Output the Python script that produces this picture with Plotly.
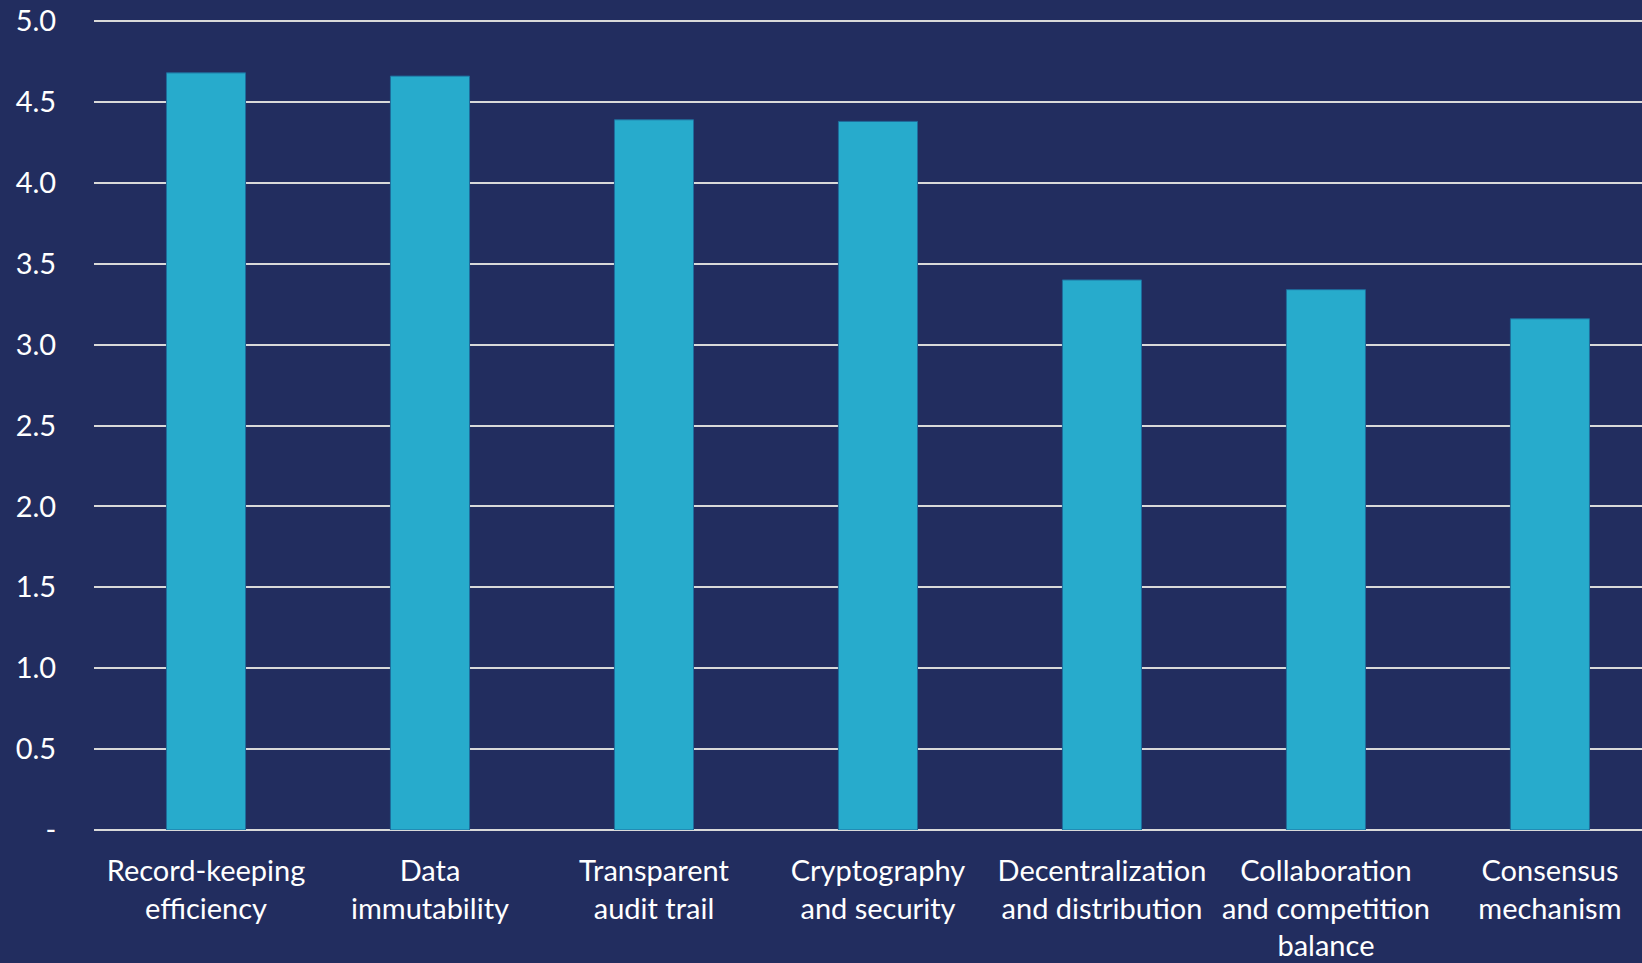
import plotly.graph_objects as go

categories = [
    "Record-keeping<br>efficiency",
    "Data<br>immutability",
    "Transparent<br>audit trail",
    "Cryptography<br>and security",
    "Decentralization<br>and distribution",
    "Collaboration<br>and competition<br>balance",
    "Consensus<br>mechanism",
]
scores = [4.68, 4.66, 4.39, 4.38, 3.40, 3.34, 3.16]

tick_values = [0, 0.5, 1.0, 1.5, 2.0, 2.5, 3.0, 3.5, 4.0, 4.5, 5.0]
tick_labels = ["-", "0.5", "1.0", "1.5", "2.0", "2.5", "3.0", "3.5", "4.0", "4.5", "5.0"]

BG = "#222D5F"
BAR = "#27ABCC"
GRID = "#D9D9D9"
FONT = "Lato"
FONT_SIZE = 29

fig = go.Figure(
    go.Bar(
        x=list(range(len(categories))),
        y=scores,
        marker=dict(color=BAR, line=dict(color="#1F6C9C", width=1)),
        width=0.353,
        hoverinfo="y",
    )
)

fig.update_layout(
    width=1642,
    height=963,
    paper_bgcolor=BG,
    plot_bgcolor=BG,
    margin=dict(l=94, r=0, t=13, b=133),
    showlegend=False,
    font=dict(family=FONT, color="white", size=FONT_SIZE),
)

fig.update_xaxes(
    tickmode="array",
    tickvals=list(range(len(categories))),
    ticktext=categories,
    range=[-0.5, 6.411],
    showgrid=False,
    showline=False,
    zeroline=False,
    ticks="outside",
    ticklen=15,
    tickcolor=BG,
    tickfont=dict(family=FONT, size=FONT_SIZE, color="white"),
)

fig.update_yaxes(
    range=[0, 5.05],
    tickmode="array",
    tickvals=tick_values,
    ticktext=tick_labels,
    showgrid=True,
    gridcolor=GRID,
    gridwidth=1.6,
    zeroline=True,
    zerolinecolor=GRID,
    zerolinewidth=1.6,
    showline=False,
    ticks="outside",
    ticklen=31,
    tickcolor=BG,
    tickfont=dict(family=FONT, size=FONT_SIZE, color="white"),
)

fig.write_html("out.html")
